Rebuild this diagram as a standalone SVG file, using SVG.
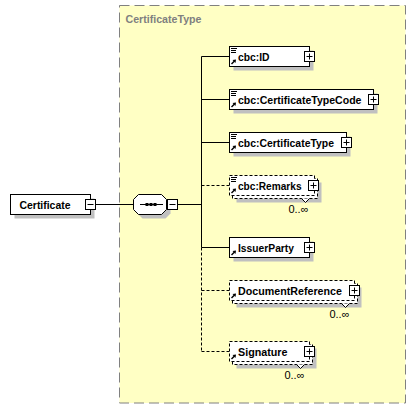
<svg xmlns="http://www.w3.org/2000/svg" width="416" height="409" viewBox="0 0 416 409">
<style>
.bx{fill:#fff;stroke:#000;stroke-width:1}
.dbx{fill:#fff;stroke:#000;stroke-width:1;stroke-dasharray:3,2}
.sh{fill:#c0c0c0}
.t{font-family:"Liberation Sans",Arial,sans-serif;font-size:11.5px;font-weight:bold;fill:#000}
.m{font-family:"Liberation Sans",Arial,sans-serif;font-size:11px;fill:#000}
.ln{stroke:#000;stroke-width:1;fill:none}
.dl{stroke:#000;stroke-width:1;fill:none;stroke-dasharray:3,2}
.pm{fill:#fff;stroke:#000;stroke-width:1}
</style>
<defs>
<g id="plus"><rect class="pm" x="-5" y="-5" width="10" height="10"/><path class="ln" d="M-3,0H3M0,-3V3"/></g>
<g id="minus"><rect class="pm" x="-5" y="-5" width="10" height="10"/><path class="ln" d="M-3,0H3"/></g>
<g id="arr"><path d="M0.5,4.5L3.5,1.5" stroke="#000" stroke-width="1.4"/><polygon points="5,0 1.5,0.5 4.5,3.5" fill="#000"/></g>
<g id="lines"><path d="M0,0.5H6M0,2.5H5M0,4.5H5" stroke="#000" stroke-width="1"/></g>
</defs>

<g id="CertificateType">
<rect x="119.5" y="5.5" width="286" height="397.5" fill="#ffffc4" stroke="#808080" stroke-width="1" stroke-dasharray="10,5"/>
<text x="125.5" y="22.5" class="t" style="fill:#808080" textLength="76" lengthAdjust="spacingAndGlyphs">CertificateType</text>
</g>

<g id="connectors">
<path class="ln" d="M95.5,204.5H133.5M177.5,204.5H201.5M201.5,56.5V247.5"/>
<path class="dl" d="M201.5,247.5V351.5"/>
<path class="ln" d="M201.5,56.5H229.5M201.5,99.5H229.5M201.5,142.5H229.5M201.5,247.5H229.5"/>
<path class="dl" d="M201.5,185.5H229.5M201.5,290.5H229.5M201.5,351.5H229.5"/>
</g>

<g id="Certificate">
<rect class="sh" x="14.5" y="198.5" width="80" height="20"/>
<rect class="bx" x="10.5" y="194.5" width="80" height="20"/>
<text x="19.5" y="209" class="t" textLength="51" lengthAdjust="spacingAndGlyphs">Certificate</text>
<use href="#minus" x="90.5" y="204.5"/>
</g>

<g id="sequence">
<polygon class="sh" points="142.5,198.5 165.5,198.5 170.5,203.5 170.5,213.5 165.5,218.5 142.5,218.5 137.5,213.5 137.5,203.5"/>
<polygon class="bx" points="138.5,194.5 161.5,194.5 166.5,199.5 166.5,209.5 161.5,214.5 138.5,214.5 133.5,209.5 133.5,199.5"/>
<path class="ln" d="M140,204.5H163"/>
<rect x="145.5" y="203" width="3" height="3" fill="#000"/>
<rect x="149.5" y="203" width="3" height="3" fill="#000"/>
<rect x="153.5" y="203" width="3" height="3" fill="#000"/>
<use href="#minus" x="172.5" y="204.5"/>
</g>

<g id="cbc_ID">
<rect class="sh" x="233.5" y="50.5" width="80" height="20"/>
<rect class="bx" x="229.5" y="46.5" width="80" height="20"/>
<use href="#lines" x="231" y="48"/>
<use href="#arr" x="231" y="59.5"/>
<text x="238" y="61" class="t" textLength="31.5" lengthAdjust="spacingAndGlyphs">cbc:ID</text>
<use href="#plus" x="309.5" y="56.5"/>
</g>

<g id="cbc_CertificateTypeCode">
<rect class="sh" x="233.5" y="93.5" width="144" height="20"/>
<rect class="bx" x="229.5" y="89.5" width="144" height="20"/>
<use href="#lines" x="231" y="91"/>
<use href="#arr" x="231" y="102.5"/>
<text x="238" y="104" class="t" textLength="123.5" lengthAdjust="spacingAndGlyphs">cbc:CertificateTypeCode</text>
<use href="#plus" x="373.5" y="99.5"/>
</g>

<g id="cbc_CertificateType">
<rect class="sh" x="233.5" y="136.5" width="117" height="20"/>
<rect class="bx" x="229.5" y="132.5" width="117" height="20"/>
<use href="#lines" x="231" y="134"/>
<use href="#arr" x="231" y="145.5"/>
<text x="238" y="147" class="t" textLength="96" lengthAdjust="spacingAndGlyphs">cbc:CertificateType</text>
<use href="#plus" x="346.5" y="142.5"/>
</g>

<g id="cbc_Remarks">
<rect class="sh" x="236.5" y="182.5" width="85" height="20"/>
<rect class="dbx" x="232.5" y="178.5" width="85" height="20"/>
<rect class="dbx" x="229.5" y="175.5" width="85" height="20"/>
<polyline points="301.5,198.5 305.5,202.5 309.5,198.5" fill="#fff" stroke="#000" stroke-width="1"/>
<use href="#lines" x="231" y="177"/>
<use href="#arr" x="231" y="188.5"/>
<text x="238" y="190" class="t" textLength="63.5" lengthAdjust="spacingAndGlyphs">cbc:Remarks</text>
<use href="#plus" x="313.5" y="185.5"/>
<text x="308.5" y="212.5" class="m" text-anchor="end">0..∞</text>
</g>

<g id="IssuerParty">
<rect class="sh" x="233.5" y="241.5" width="80" height="20"/>
<rect class="bx" x="229.5" y="237.5" width="80" height="20"/>
<use href="#arr" x="231" y="250.5"/>
<text x="238" y="252" class="t" textLength="56" lengthAdjust="spacingAndGlyphs">IssuerParty</text>
<use href="#plus" x="309.5" y="247.5"/>
</g>

<g id="DocumentReference">
<rect class="sh" x="236.5" y="287.5" width="125" height="20"/>
<rect class="dbx" x="232.5" y="283.5" width="125" height="20"/>
<rect class="dbx" x="229.5" y="280.5" width="125" height="20"/>
<polyline points="341.5,303.5 345.5,307.5 349.5,303.5" fill="#fff" stroke="#000" stroke-width="1"/>
<use href="#arr" x="231" y="293.5"/>
<text x="238" y="295" class="t" textLength="104" lengthAdjust="spacingAndGlyphs">DocumentReference</text>
<use href="#plus" x="354.5" y="290.5"/>
<text x="349.5" y="317.5" class="m" text-anchor="end">0..∞</text>
</g>

<g id="Signature">
<rect class="sh" x="236.5" y="348.5" width="80" height="20"/>
<rect class="dbx" x="232.5" y="344.5" width="80" height="20"/>
<rect class="dbx" x="229.5" y="341.5" width="80" height="20"/>
<polyline points="296.5,364.5 300.5,368.5 304.5,364.5" fill="#fff" stroke="#000" stroke-width="1"/>
<use href="#arr" x="231" y="354.5"/>
<text x="238" y="356" class="t" textLength="49.5" lengthAdjust="spacingAndGlyphs">Signature</text>
<use href="#plus" x="309.5" y="351.5"/>
<text x="304.5" y="379" class="m" text-anchor="end">0..∞</text>
</g>
</svg>
